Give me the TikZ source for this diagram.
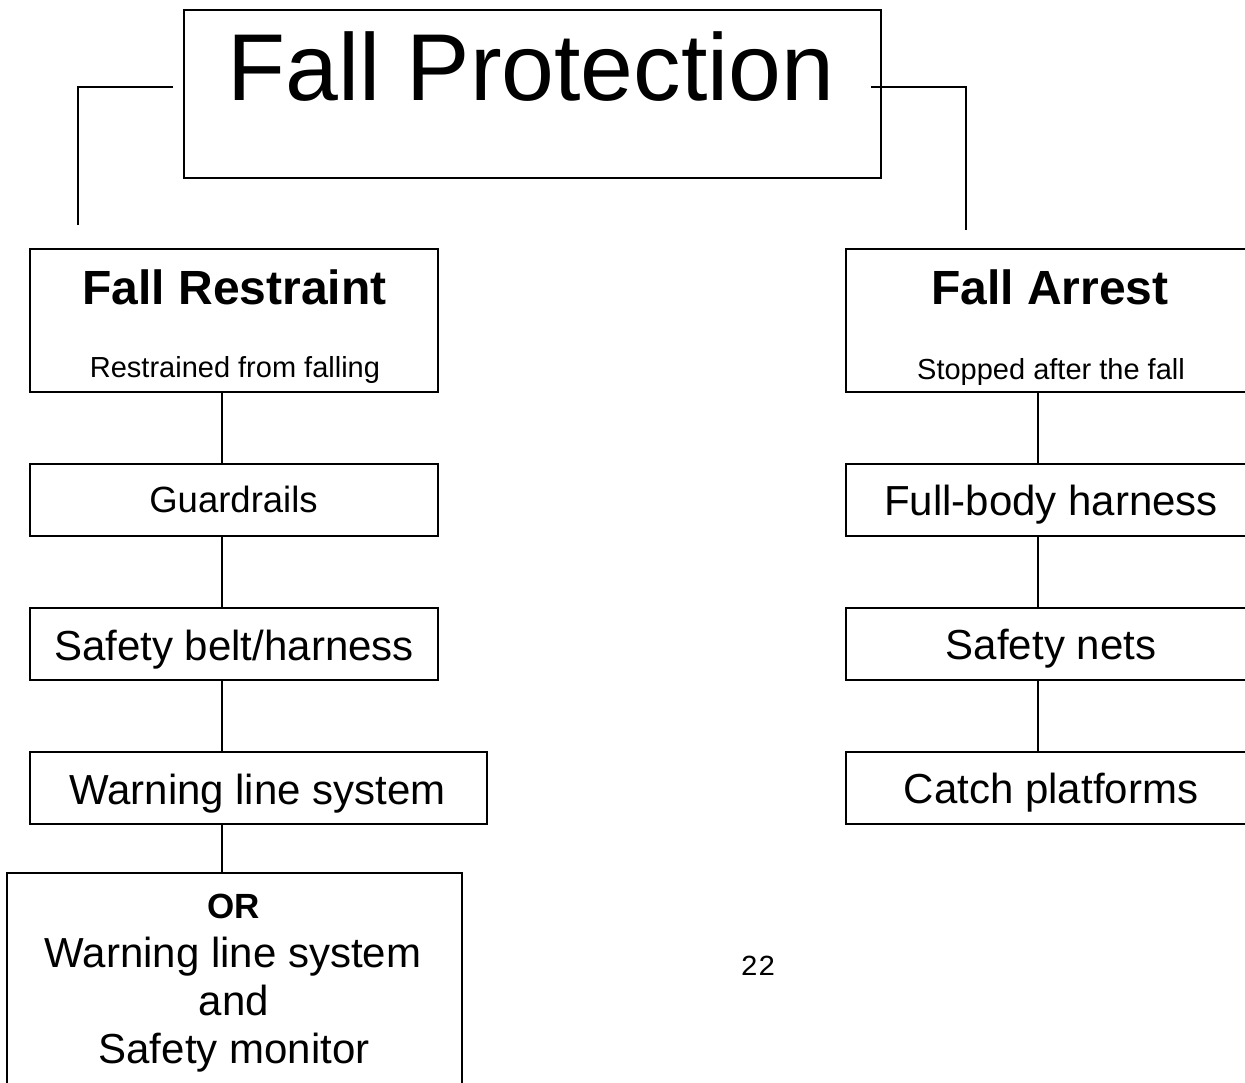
\documentclass[tikz,border=0pt]{standalone}
\usepackage{fontspec}
\setmainfont{Liberation Sans}
\newfontfamily\monofnt{Liberation Mono}
\newcommand\setfs[1]{\fontsize{#1pt}{#1pt}\selectfont}
\begin{document}
\begin{tikzpicture}[x=1pt,y=-1pt,
  box/.style={draw,line width=1.7pt,inner sep=0pt,outer sep=0pt},
  link/.style={line width=1.5pt},
  txt/.style={anchor=base,inner sep=0pt,outer sep=0pt}]
\useasboundingbox (0,0) rectangle (1245,1082);
\clip (0,0) rectangle (1245,1082);
\fill[white] (0,0) rectangle (1245,1082);

% boxes
\node[box,minimum width=697pt,minimum height=168pt] (title) at (532.5,94) {};
\node[box,minimum width=408pt,minimum height=143pt] (fr) at (234,320.5) {};
\node[box,minimum width=408pt,minimum height=72pt] (gr) at (234,500) {};
\node[box,minimum width=408pt,minimum height=72pt] (sb) at (234,644) {};
\node[box,minimum width=457pt,minimum height=72pt] (wl) at (258.5,788) {};
\node[box,minimum width=455pt,minimum height=237pt] (orb) at (234.5,991.5) {};
\node[box,minimum width=408pt,minimum height=143pt] (fa) at (1050,320.5) {};
\node[box,minimum width=408pt,minimum height=72pt] (fb) at (1050,500) {};
\node[box,minimum width=408pt,minimum height=72pt] (sn) at (1050,644) {};
\node[box,minimum width=408pt,minimum height=72pt] (cp) at (1050,788) {};

% texts
\node[txt,font=\setfs{95}] (ttl) at (531,100) {Fall Protection};
\node[txt,font=\setfs{48}\bfseries] (frt) at (234.5,304) {Fall Restraint};
\node[txt,font=\setfs{29}] (frs) at (235,377) {Restrained from falling};
\node[txt,font=\setfs{36.5}] (grt) at (233.5,512) {Guardrails};
\node[txt,font=\setfs{42}] (sbt) at (234,660) {Safety belt/harness};
\node[txt,font=\setfs{42}] (wlt) at (257.5,804) {Warning line system};
\node[txt,font=\setfs{35}\bfseries] (ort1) at (234,918) {OR};
\node[txt,font=\setfs{42}] (ort2) at (233,967) {Warning line system};
\node[txt,font=\setfs{42}] (ort3) at (234,1015) {and};
\node[txt,font=\setfs{42}] (ort4) at (234,1063) {Safety monitor};
\node[txt,font=\setfs{48}\bfseries] (fat) at (1050,304) {Fall Arrest};
\node[txt,font=\setfs{29}] (fas) at (1051,379) {Stopped after the fall};
\node[txt,font=\setfs{42}] (fbt) at (1051,515) {Full-body harness};
\node[txt,font=\setfs{42}] (snt) at (1051,659) {Safety nets};
\node[txt,font=\setfs{42}] (cpt) at (1051,803) {Catch platforms};
\node[txt,font=\monofnt\setfs{29}] (pg) at (758,975) {22};

% connector coordinates
\coordinate (lx) at (222,0);
\coordinate (rx) at (1038,0);
\coordinate (tl) at (173,87);
\coordinate (tlb) at (78,225);
\coordinate (tr) at (871,87);
\coordinate (trb) at (966,230);

% connectors
\draw[link] (tl) -| (tlb);
\draw[link] (tr) -| (trb);
\draw[link] (fr.south -| lx) -- (gr.north -| lx);
\draw[link] (gr.south -| lx) -- (sb.north -| lx);
\draw[link] (sb.south -| lx) -- (wl.north -| lx);
\draw[link] (wl.south -| lx) -- (orb.north -| lx);
\draw[link] (fa.south -| rx) -- (fb.north -| rx);
\draw[link] (fb.south -| rx) -- (sn.north -| rx);
\draw[link] (sn.south -| rx) -- (cp.north -| rx);
\end{tikzpicture}
\end{document}
